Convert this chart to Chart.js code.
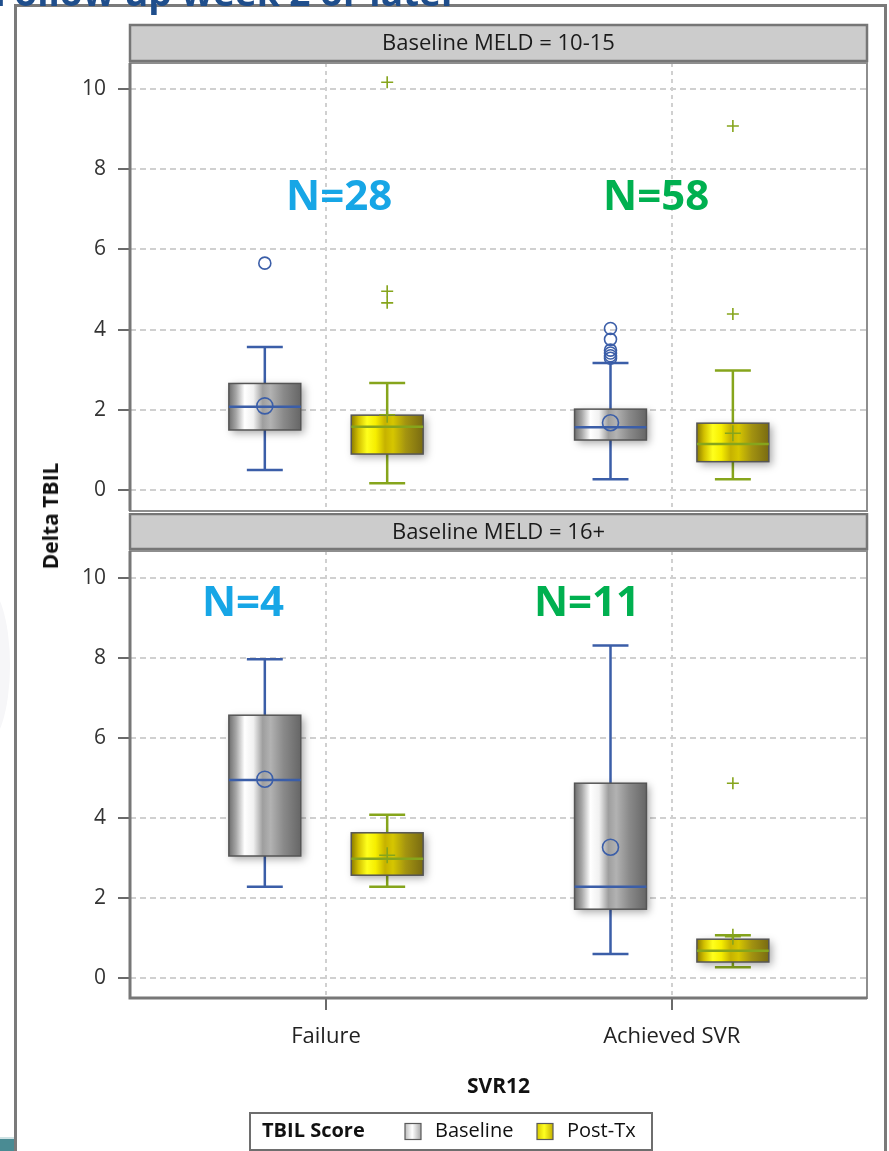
<!DOCTYPE html>
<html>
<head>
<meta charset="utf-8">
<script src="https://cdn.jsdelivr.net/npm/chart.js@4.4.0/dist/chart.umd.min.js"></script>
<style>
  html, body { margin: 0; padding: 0; background: #fff; }
  body { width: 889px; height: 1151px; position: relative; overflow: hidden; font-family: 'Open Sans', sans-serif; }
  #frame { position: absolute; left: 14px; top: 4px; width: 873px; height: 1200px; border: 3px solid #7a7a7a; box-sizing: border-box; }
  #heading { position: absolute; left: -6px; top: -27px; font: bold 37px 'Open Sans', sans-serif; color: #1f4e8c; white-space: nowrap; line-height: 37px; z-index: 2; }
  #tab { position: absolute; left: 0; top: 1137px; width: 14px; height: 14px; background: #4a8b93; border-top: 2px solid #cfe3e5; }
  #glow { position: absolute; left: -40px; top: 585px; width: 50px; height: 160px; border-radius: 50%; background: #f6f6f8; }
  .panel { position: absolute; left: 0; }
  #p1 { top: 0; }
  #p2 { top: 513px; }
  #ytitle { position: absolute; left: 50px; top: 516px; transform: translate(-50%, -50%) rotate(-90deg); font: bold 21px 'Open Sans', sans-serif; color: #111; white-space: nowrap; z-index: 2; }
</style>
</head>
<body>
<div id="glow"></div>
<div id="frame"></div>
<div id="heading">Follow up week 2 or later</div>
<div id="tab"></div>
<canvas id="p1" class="panel" width="889" height="513"></canvas>
<canvas id="p2" class="panel" width="889" height="638"></canvas>
<div id="ytitle">Delta TBIL</div>
<script>
// ---- data -------------------------------------------------------------
const categories = ['Failure', 'Achieved SVR'];
const scoreGroups = ['Baseline', 'Post-Tx'];
const panelTitles = ['Baseline MELD = 10-15', 'Baseline MELD = 16+'];
const yTickValues = [0, 2, 4, 6, 8, 10];

// patients per SVR12 outcome
const countsMeld10to15 = [28, 58];
const countsMeld16plus = [4, 11];

// [lower whisker, Q1, median, Q3, upper whisker] per SVR12 outcome
const meld10to15Baseline = [[0.50, 1.50, 2.08, 2.66, 3.57], [0.27, 1.25, 1.57, 2.02, 3.17]];
const meld10to15PostTx   = [[0.17, 0.90, 1.58, 1.87, 2.67], [0.27, 0.71, 1.15, 1.67, 2.98]];
const meld16plusBaseline = [[2.28, 3.05, 4.95, 6.57, 7.97], [0.60, 1.72, 2.28, 4.87, 8.31]];
const meld16plusPostTx   = [[2.28, 2.57, 2.98, 3.63, 4.08], [0.27, 0.40, 0.68, 0.97, 1.07]];

const meld10to15BaselineMean = [2.10, 1.68];
const meld10to15PostTxMean   = [1.88, 1.42];
const meld16plusBaselineMean = [4.97, 3.27];
const meld16plusPostTxMean   = [3.07, 1.03];

const meld10to15BaselineOutliers = [[5.66], [4.03, 3.76, 3.49, 3.42, 3.35, 3.29]];
const meld10to15PostTxOutliers   = [[10.17, 4.96, 4.67], [9.08, 4.39]];
const meld16plusBaselineOutliers = [[], []];
const meld16plusPostTxOutliers   = [[], [4.87]];

// ---- styling ----------------------------------------------------------
const FONT = "'Open Sans', sans-serif";
const BLUE = '#3b5ea8';
const OLIVE = '#86a51c';
const N_COLORS = ['#17a6e6', '#00b050'];
const GROUP_OFFSET = 0.177;
const BOX_HALF = 0.104;
const CAP_HALF = 0.052;
const GRAY_STOPS = [[0, '#6e6e6e'], [0.1, '#a6a6a6'], [0.22, '#ffffff'], [0.34, '#f1f1f1'], [0.47, '#9e9e9e'], [0.58, '#b2b2b2'], [0.76, '#8a8a8a'], [1, '#666666']];
const GOLD_STOPS = [[0, '#8a7a00'], [0.1, '#d2c000'], [0.22, '#ffff1c'], [0.34, '#f6ee00'], [0.47, '#c6b200'], [0.58, '#d6c600'], [0.76, '#a39310'], [1, '#796b12']];
const GRAY_SWATCH = [[0, '#bdbdbd'], [0.45, '#ffffff'], [1, '#a8a8a8']];
const GOLD_SWATCH = [[0, '#d8c800'], [0.45, '#ffff20'], [1, '#c4b000']];

function gradient(ctx, x0, x1, stops) {
  const g = ctx.createLinearGradient(x0, 0, x1, 0);
  stops.forEach(([o, c]) => g.addColorStop(o, c));
  return g;
}

function drawBox(ctx, xs, ys, xv, s, g) {
  const [lo, q1, med, q3, hi] = s;
  const cx = xs.getPixelForValue(xv);
  const left = xs.getPixelForValue(xv - BOX_HALF);
  const right = xs.getPixelForValue(xv + BOX_HALF);
  const capL = xs.getPixelForValue(xv - CAP_HALF);
  const capR = xs.getPixelForValue(xv + CAP_HALF);
  const pLo = ys.getPixelForValue(lo), pQ1 = ys.getPixelForValue(q1);
  const pMed = ys.getPixelForValue(med), pQ3 = ys.getPixelForValue(q3);
  const pHi = ys.getPixelForValue(hi);
  ctx.save();
  ctx.strokeStyle = g.line;
  ctx.lineWidth = 2.5;
  ctx.beginPath();
  ctx.moveTo(cx, pHi); ctx.lineTo(cx, pQ3);
  ctx.moveTo(cx, pQ1); ctx.lineTo(cx, pLo);
  ctx.moveTo(capL, pHi); ctx.lineTo(capR, pHi);
  ctx.moveTo(capL, pLo); ctx.lineTo(capR, pLo);
  ctx.stroke();
  ctx.save();
  ctx.shadowColor = 'rgba(0,0,0,0.35)';
  ctx.shadowBlur = 8;
  ctx.shadowOffsetX = 3;
  ctx.shadowOffsetY = 3;
  ctx.fillStyle = gradient(ctx, left, right, g.stops);
  ctx.fillRect(left, pQ3, right - left, pQ1 - pQ3);
  ctx.restore();
  ctx.strokeStyle = '#555555';
  ctx.lineWidth = 1.5;
  ctx.strokeRect(left, pQ3, right - left, pQ1 - pQ3);
  ctx.strokeStyle = g.line;
  ctx.lineWidth = 2.5;
  ctx.beginPath();
  ctx.moveTo(left, pMed); ctx.lineTo(right, pMed);
  ctx.stroke();
  ctx.restore();
}

// Facet strip, box bodies, N annotations, panel wall and (optionally) legend
function facetPlugin(cfg) {
  return {
    id: 'facet',
    beforeDraw(chart) {
      const { ctx, chartArea: a } = chart;
      ctx.save();
      ctx.fillStyle = '#cccccc';
      ctx.fillRect(a.left, cfg.stripTop, a.right - a.left, cfg.stripHeight);
      ctx.lineWidth = 2.5;
      ctx.strokeStyle = '#767676';
      ctx.strokeRect(a.left, cfg.stripTop, a.right - a.left, cfg.stripHeight);
      ctx.fillStyle = '#1b1b1b';
      ctx.font = '22px ' + FONT;
      ctx.textAlign = 'center';
      ctx.textBaseline = 'middle';
      ctx.fillText(cfg.title, (a.left + a.right) / 2, cfg.stripTop + cfg.stripHeight / 2 + 1);
      ctx.restore();
    },
    beforeDatasetsDraw(chart) {
      const { ctx, scales: { x, y } } = chart;
      cfg.boxes.forEach(grp => grp.stats.forEach((s, i) => drawBox(ctx, x, y, i + grp.offset, s, grp)));
    },
    afterDatasetsDraw(chart) {
      const { ctx, scales: { x, y } } = chart;
      ctx.save();
      ctx.font = 'bold 42px ' + FONT;
      ctx.textAlign = 'center';
      ctx.textBaseline = 'middle';
      cfg.counts.forEach((n, i) => {
        const pos = cfg.countPos[i];
        ctx.fillStyle = N_COLORS[i];
        ctx.fillText('N=' + n, x.getPixelForValue(i + pos[0]), y.getPixelForValue(pos[1]));
      });
      ctx.restore();
    },
    afterDraw(chart) {
      const { ctx, chartArea: a } = chart;
      ctx.save();
      ctx.strokeStyle = '#8e8e8e';
      ctx.lineWidth = 2;
      ctx.strokeRect(a.left, a.top, a.right - a.left, a.bottom - a.top);
      ctx.strokeStyle = '#777777';
      ctx.lineWidth = 3;
      ctx.beginPath();
      ctx.moveTo(a.left, a.top); ctx.lineTo(a.left, a.bottom);
      if (cfg.legend) { ctx.lineTo(a.right, a.bottom); }
      ctx.stroke();
      if (cfg.legend) {
        const L = cfg.legend;
        ctx.strokeStyle = '#6e6e6e';
        ctx.lineWidth = 2;
        ctx.fillStyle = '#fff';
        ctx.fillRect(L.x, L.y, L.w, L.h);
        ctx.strokeRect(L.x, L.y, L.w, L.h);
        const cy = L.y + L.h / 2;
        ctx.textBaseline = 'middle';
        ctx.textAlign = 'left';
        ctx.fillStyle = '#111';
        ctx.font = 'bold 20px ' + FONT;
        ctx.fillText('TBIL Score', L.x + 12, cy);
        ctx.font = '20px ' + FONT;
        const items = [[L.sw1, GRAY_SWATCH, scoreGroups[0]], [L.sw2, GOLD_SWATCH, scoreGroups[1]]];
        items.forEach(([sx, stops, label]) => {
          ctx.fillStyle = gradient(ctx, sx, sx + 16, stops);
          ctx.fillRect(sx, cy - 8, 16, 16);
          ctx.strokeStyle = '#5a5a5a';
          ctx.lineWidth = 1.2;
          ctx.strokeRect(sx, cy - 8, 16, 16);
          ctx.fillStyle = '#111';
          ctx.fillText(label, sx + 30, cy);
        });
      }
      ctx.restore();
    }
  };
}

function pointsFor(values, offset) {
  const pts = [];
  values.forEach((v, i) => (Array.isArray(v) ? v : [v]).forEach(y => pts.push({ x: i + offset, y })));
  return pts;
}

function markerSets(baseMean, baseOut, postMean, postOut) {
  const common = { showLine: false, backgroundColor: 'rgba(0,0,0,0)', borderWidth: 1.6, pointHoverRadius: 0 };
  return [
    { ...common, label: 'Baseline mean', data: pointsFor(baseMean, -GROUP_OFFSET), pointStyle: 'circle', pointRadius: 8, borderColor: BLUE },
    { ...common, label: 'Baseline outliers', data: pointsFor(baseOut, -GROUP_OFFSET), pointStyle: 'circle', pointRadius: 6, borderColor: BLUE },
    { ...common, label: 'Post-Tx mean', data: pointsFor(postMean, GROUP_OFFSET), pointStyle: 'cross', pointRadius: 8, borderColor: OLIVE },
    { ...common, label: 'Post-Tx outliers', data: pointsFor(postOut, GROUP_OFFSET), pointStyle: 'cross', pointRadius: 6, borderColor: OLIVE }
  ];
}

function yScale(min, max) {
  return {
    type: 'linear', min, max,
    afterBuildTicks: s => { s.ticks = yTickValues.map(v => ({ value: v })); },
    afterFit: s => { s.width = 130; s.paddingTop = 0; s.paddingBottom = 0; },
    ticks: { color: '#333', font: { family: FONT, size: 21 }, padding: 12 },
    grid: { color: '#d0d0d0', lineWidth: 2, tickColor: '#6a6a6a', tickWidth: 2, tickLength: 12, tickBorderDash: [] },
    border: { display: false, dash: [6, 4] }
  };
}

function xScale(showLabels) {
  return {
    type: 'linear', min: -0.567, max: 1.565,
    afterBuildTicks: s => { s.ticks = categories.map((c, i) => ({ value: i })); },
    afterFit: s => { s.height = showLabels ? 153 : 0; s.paddingLeft = 0; s.paddingRight = 0; },
    ticks: { display: showLabels, color: '#222', font: { family: FONT, size: 22 }, padding: 14, maxRotation: 0,
             callback: v => categories[v] },
    grid: { color: '#d0d0d0', lineWidth: 2, drawTicks: showLabels, tickColor: '#6a6a6a', tickWidth: 2, tickLength: 12, tickBorderDash: [] },
    border: { display: false, dash: [4, 4] },
    title: { display: showLabels, text: 'SVR12', color: '#111', font: { family: FONT, size: 21, weight: 'bold' }, padding: { top: 0, bottom: 51 } }
  };
}

function baseOptions(padTop, padBottom, yMin, yMax, showLabels) {
  return {
    responsive: false,
    animation: false,
    events: [],
    layout: { autoPadding: false, padding: { top: padTop, right: 22, left: 0, bottom: padBottom } },
    plugins: { legend: { display: false }, tooltip: { enabled: false } },
    scales: { x: xScale(showLabels), y: yScale(yMin, yMax) }
  };
}

new Chart(document.getElementById('p1'), {
  type: 'scatter',
  data: { datasets: markerSets(meld10to15BaselineMean, meld10to15BaselineOutliers, meld10to15PostTxMean, meld10to15PostTxOutliers) },
  options: baseOptions(63, 2, -0.52, 10.65, false),
  plugins: [facetPlugin({
    title: panelTitles[0], stripTop: 25, stripHeight: 36,
    counts: countsMeld10to15, countPos: [[0.038, 7.28], [-0.045, 7.28]],
    boxes: [
      { stats: meld10to15Baseline, offset: -GROUP_OFFSET, line: BLUE, stops: GRAY_STOPS },
      { stats: meld10to15PostTx, offset: GROUP_OFFSET, line: OLIVE, stops: GOLD_STOPS }
    ]
  })]
});

new Chart(document.getElementById('p2'), {
  type: 'scatter',
  data: { datasets: markerSets(meld16plusBaselineMean, meld16plusBaselineOutliers, meld16plusPostTxMean, meld16plusPostTxOutliers) },
  options: baseOptions(38, 0, -0.5, 10.675, true),
  plugins: [facetPlugin({
    title: panelTitles[1], stripTop: 1, stripHeight: 35,
    counts: countsMeld16plus, countPos: [[-0.24, 9.35], [-0.245, 9.35]],
    boxes: [
      { stats: meld16plusBaseline, offset: -GROUP_OFFSET, line: BLUE, stops: GRAY_STOPS },
      { stats: meld16plusPostTx, offset: GROUP_OFFSET, line: OLIVE, stops: GOLD_STOPS }
    ],
    legend: { x: 250, y: 600, w: 402, h: 37, sw1: 405, sw2: 537 }
  })]
});
</script>
</body>
</html>
